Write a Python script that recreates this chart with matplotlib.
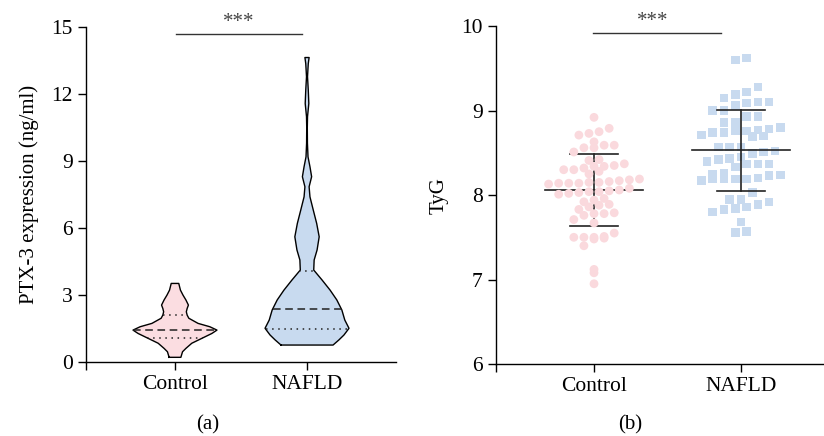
import numpy as np
import matplotlib
matplotlib.use("Agg")
import matplotlib.pyplot as plt

plt.rcParams['font.family'] = ['Liberation Serif', 'DejaVu Serif']
plt.rcParams['font.size'] = 15

groups = ["Control", "NAFLD"]
pink = "#fbdde1"
blue = "#c8daef"

# (a) violin profiles: value levels and relative half-width (density)
ctrl_levels = [0.21, 0.46, 0.61, 0.84, 1.06, 1.28, 1.43, 1.58, 1.73, 1.96, 2.10,
               2.25, 2.40, 2.55, 2.78, 3.00, 3.22, 3.52]
ctrl_dens = [0.14, 0.18, 0.26, 0.40, 0.64, 0.88, 1.00, 0.83, 0.55, 0.33, 0.29,
             0.27, 0.29, 0.32, 0.26, 0.19, 0.13, 0.09]
nafld_levels = [0.76, 0.99, 1.21, 1.51, 1.88, 2.33, 2.78, 3.22, 3.67, 4.12, 4.57,
                5.02, 5.61, 6.21, 6.80, 7.40, 7.85, 8.30, 8.75, 9.19, 9.80, 10.50,
                10.99, 11.58, 12.18, 12.78, 13.37, 13.64]
nafld_dens = [0.62, 0.76, 0.88, 1.00, 0.90, 0.83, 0.71, 0.55, 0.36, 0.16, 0.17,
              0.24, 0.29, 0.23, 0.15, 0.07, 0.05, 0.11, 0.07, 0.024, 0.01, 0.007,
              0.012, 0.043, 0.03, 0.012, 0.03, 0.05]
ctrl_quart = [1.09, 1.43, 2.10]   # Q1, median, Q3
nafld_quart = [1.46, 2.36, 4.07]

# (b) TyG values
tyg_ctrl = [8.92, 8.79, 8.73, 8.75, 8.71, 8.63, 8.59, 8.59, 8.56, 8.56, 8.51,
            8.41, 8.42, 8.37, 8.35, 8.34, 8.34, 8.32, 8.30, 8.30, 8.28, 8.25,
            8.19, 8.18, 8.17, 8.16, 8.15, 8.15, 8.14, 8.14, 8.14, 8.13, 8.08,
            8.06, 8.04, 8.05, 8.04, 8.03, 8.02, 8.01, 7.96, 7.94, 7.92, 7.89,
            7.88, 7.86, 7.83, 7.79, 7.78, 7.78, 7.76, 7.71, 7.67, 7.55, 7.50,
            7.51, 7.49, 7.50, 7.48, 7.50, 7.40, 7.12, 7.08, 6.95]
tyg_nafld = [9.60, 9.62, 9.28, 9.15, 9.22, 9.19, 9.10, 9.10, 9.09, 9.06, 9.00,
             9.00, 8.93, 8.93, 8.86, 8.86, 8.74, 8.80, 8.70, 8.77, 8.76, 8.76,
             8.74, 8.71, 8.78, 8.69, 8.57, 8.57, 8.57, 8.52, 8.51, 8.49, 8.45,
             8.43, 8.42, 8.40, 8.37, 8.37, 8.37, 8.33, 8.26, 8.25, 8.24, 8.23,
             8.20, 8.19, 8.19, 8.19, 8.17, 8.19, 8.03, 7.95, 7.95, 7.92, 7.89,
             7.86, 7.84, 7.83, 7.80, 7.68, 7.57, 7.56]
tyg_mean = [8.06, 8.53]
tyg_sd = [0.43, 0.48]


def style_axes(ax):
    for s in ["top", "right"]:
        ax.spines[s].set_visible(False)
    for s in ["left", "bottom"]:
        ax.spines[s].set_linewidth(1.0)
    ax.tick_params(direction="out", length=5.5, width=1.0, labelsize=15.5, pad=4)
    ax.tick_params(axis="x", which="minor", length=5.5, width=1.0)


fig = plt.figure(figsize=(8.24, 4.36), dpi=100)

# ---------- (a) ----------
ax1 = fig.add_axes([86/824, 0.1697, 310/824, 0.768])
half_max = 0.318
for i, (lev, den, q, col) in enumerate([(ctrl_levels, ctrl_dens, ctrl_quart, pink),
                                          (nafld_levels, nafld_dens, nafld_quart, blue)]):
    lev = np.array(lev)
    hw = np.array(den) * half_max
    ax1.fill_betweenx(lev, i - hw, i + hw, facecolor=col, edgecolor="none", zorder=2)
    xs = np.concatenate([i - hw, (i + hw)[::-1], [(i - hw)[0]]])
    ys = np.concatenate([lev, lev[::-1], [lev[0]]])
    ax1.plot(xs, ys, color="black", lw=1.0, zorder=3)
    for k, qv in enumerate(q):
        w = np.interp(qv, lev, hw)
        ls = (0, (5, 3)) if k == 1 else (0, (1, 3))
        ax1.plot([i - w, i + w], [qv, qv], color="#222222", lw=1.1, ls=ls, zorder=3)

ax1.set_xlim(-0.674, 1.674)
ax1.set_ylim(0, 15)
ax1.set_yticks([0, 3, 6, 9, 12, 15])
ax1.set_xticks([0, 1])
ax1.set_xticklabels(groups)
ax1.set_xticks([-0.674], minor=True)
ax1.set_ylabel("PTX-3 expression (ng/ml)", fontsize=15, labelpad=9)
style_axes(ax1)
ax1.plot([0.008, 0.96], [14.69, 14.69], color="#333333", lw=1.0, clip_on=False)
ax1.text(0.48, 14.8, "***", ha="center", va="bottom", fontsize=15, color="#444444")
fig.text(208/824, 1 - 425/436, "(a)", ha="center", va="center", fontsize=15)

# ---------- (b) ----------
ax2 = fig.add_axes([496/824, 0.1651, 328/824, 0.775])
unit_x = 1 / 147.0  # x data per pixel


def column_layout(vals, center, step, bin_h):
    vals = np.array(vals)
    xs = np.zeros(len(vals))
    bins = np.floor((vals - 6.0) / bin_h).astype(int)
    for b in np.unique(bins):
        idx = np.where(bins == b)[0]
        idx = idx[np.argsort(vals[idx])]
        n = len(idx)
        for j, k in enumerate(idx):
            xs[k] = center + (j - (n - 1) / 2) * step
    return xs


cx = column_layout(tyg_ctrl, 0, 10.1 * unit_x, 0.1)
nx = column_layout(tyg_nafld, 1, 11.3 * unit_x, 0.15)

# control: lines under points, nafld: lines over points
for i, z in [(0, 2), (1, 5)]:
    m, s = tyg_mean[i], tyg_sd[i]
    ax2.plot([i - 0.333, i + 0.333], [m, m], color="#222222", lw=1.2, zorder=z)
    ax2.plot([i, i], [m - s, m + s], color="#222222", lw=1.2, zorder=z)
    for v in (m - s, m + s):
        ax2.plot([i - 0.165, i + 0.165], [v, v], color="#222222", lw=1.2, zorder=z)

ax2.scatter(cx, tyg_ctrl, s=40, marker="o", color="#fad9dd", edgecolors="none", zorder=3)
ax2.scatter(nx, tyg_nafld, s=38, marker="s", color=blue, edgecolors="none", zorder=3)

ax2.set_xlim(-0.667, 1.565)
ax2.set_ylim(6, 10)
ax2.set_yticks([6, 7, 8, 9, 10])
ax2.set_xticks([0, 1])
ax2.set_xticklabels(groups)
ax2.set_xticks([-0.667], minor=True)
ax2.set_ylabel("TyG", fontsize=15, labelpad=9)
style_axes(ax2)
ax2.plot([-0.007, 0.864], [9.917, 9.917], color="#333333", lw=1.0, clip_on=False)
ax2.text(0.40, 9.945, "***", ha="center", va="bottom", fontsize=15, color="#444444")
fig.text(630/824, 1 - 425/436, "(b)", ha="center", va="center", fontsize=15)

fig.savefig("out.png", dpi=100)
